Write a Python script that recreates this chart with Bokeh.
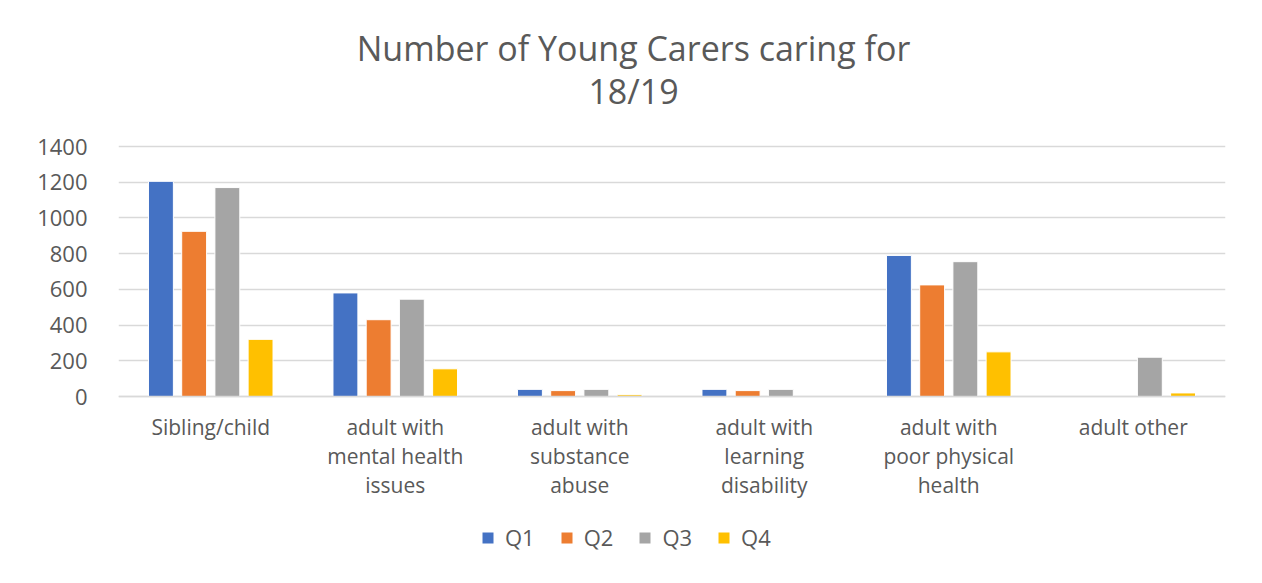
from bokeh.plotting import figure
from bokeh.models import ColumnDataSource, Legend, LegendItem, FactorRange, Range1d, Label
from bokeh.transform import dodge
from bokeh.embed import file_html
from bokeh.resources import INLINE

categories = ["Sibling/child", "adult with\nmental health\nissues", "adult with\nsubstance\nabuse",
              "adult with\nlearning\ndisability", "adult with\npoor physical\nhealth", "adult other"]
q1 = [1205, 580, 40, 40, 790, 0]
q2 = [925, 430, 33, 33, 625, 0]
q3 = [1170, 545, 40, 40, 755, 220]
q4 = [320, 155, 10, 0, 250, 20]
series_names = ["Q1", "Q2", "Q3", "Q4"]
colors = ["#4472C4", "#ED7D31", "#A5A5A5", "#FFC000"]
y_ticks = [0, 200, 400, 600, 800, 1000, 1200, 1400]
title_lines = ["Number of Young Carers caring for", "18/19"]

source = ColumnDataSource(dict(cat=categories, Q1=q1, Q2=q2, Q3=q3, Q4=q4))

FONT = "Open Sans"
TXT = "#595959"

# layout in pixels
W, H = 1246, 567
LEFT, RIGHT = 118, 21
PLOT_TOP, PLOT_BOTTOM = 146, 396          # pixel rows of 1400 and 0
YMAX = 1400
upp = YMAX / (PLOT_BOTTOM - PLOT_TOP)     # data units per pixel
y_start = -(H - PLOT_BOTTOM) * upp
y_end = YMAX + PLOT_TOP * upp

def y_at(px):
    return YMAX + (PLOT_TOP - px) * upp

p = figure(x_range=FactorRange(*categories), y_range=Range1d(y_start, y_end),
           frame_width=W - LEFT - RIGHT, frame_height=H,
           output_backend="svg", toolbar_location=None, title=None,
           min_border_left=LEFT, min_border_right=RIGHT, min_border_top=0, min_border_bottom=0)
p.x_range.range_padding = 0

offsets = [-0.27, -0.09, 0.09, 0.27]
items = []
for name, col, off in zip(series_names, colors, offsets):
    r = p.vbar(x=dodge("cat", off, range=p.x_range), top=name, width=0.135, source=source,
               fill_color=col, line_color="white", line_width=1)
    items.append(LegendItem(label=name, renderers=[r]))

p.outline_line_color = None
p.background_fill_color = "white"
p.border_fill_color = "white"
p.xgrid.grid_line_color = None
p.ygrid.grid_line_color = "#D9D9D9"
p.ygrid.grid_line_width = 1.5
p.yaxis.ticker = y_ticks
p.yaxis.axis_line_color = None
p.yaxis.major_tick_line_color = None
p.yaxis.minor_tick_line_color = None
p.yaxis.major_label_standoff = 25
p.yaxis.major_label_text_font_size = "22px"
p.xaxis.fixed_location = 0
p.xaxis.axis_line_color = "#D9D9D9"
p.xaxis.axis_line_width = 1.5
p.xaxis.major_tick_line_color = None
p.xaxis.major_label_standoff = 10
p.xaxis.major_label_text_line_height = 1.05
p.xaxis.major_label_text_font_size = "21px"
for ax in (p.xaxis, p.yaxis):
    ax.major_label_text_font = FONT
    ax.major_label_text_color = TXT

title_x = (633 - LEFT) / ((W - LEFT - RIGHT) / len(categories))
for txt, py in zip(title_lines, [47, 90]):
    p.add_layout(Label(x=title_x, y=y_at(py), text=txt, text_align="center", text_baseline="middle",
                       text_font=FONT, text_font_size="34px", text_color=TXT))

legend = Legend(items=items, orientation="horizontal", location=(362, 15),
                label_text_font=FONT, label_text_font_size="22px", label_text_color=TXT,
                glyph_width=15, glyph_height=15, spacing=24, label_standoff=10, margin=0,
                padding=4, border_line_color=None, background_fill_alpha=0)
p.add_layout(legend, "center")

open("out.html", "w").write(file_html(p, INLINE))
